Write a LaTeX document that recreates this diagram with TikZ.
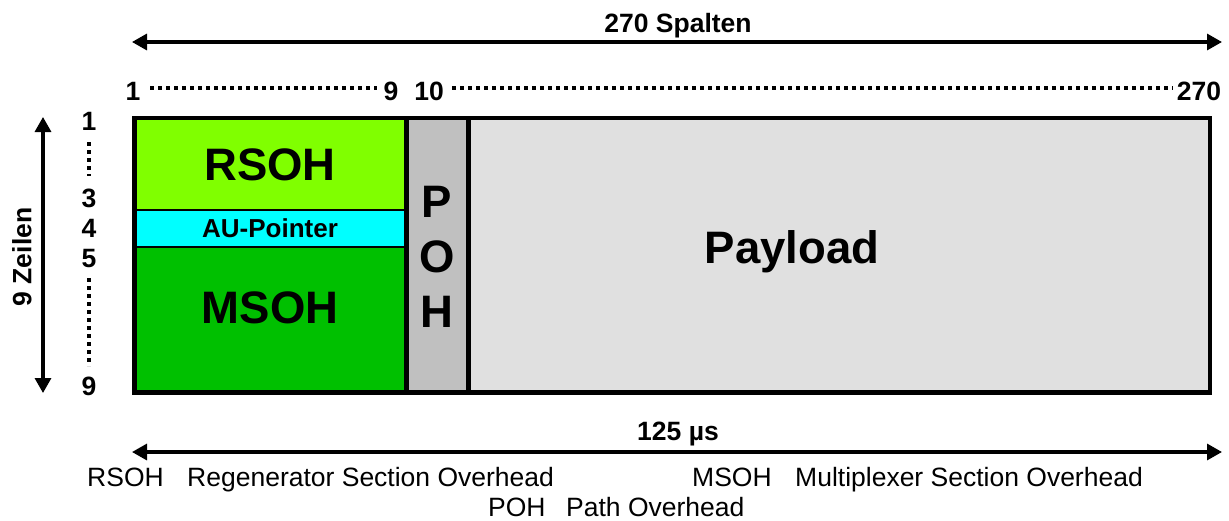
\documentclass[tikz,border=0pt]{standalone}
\usepackage{fontspec}
\setmainfont{Liberation Sans}
\usetikzlibrary{arrows.meta}
\definecolor{rsohc}{HTML}{80FF00}
\definecolor{auc}{HTML}{00FFFF}
\definecolor{msohc}{HTML}{00C000}
\definecolor{pohc}{HTML}{C0C0C0}
\definecolor{payc}{HTML}{E0E0E0}
\tikzset{
  cell/.style={draw=black, line width=2pt, inner sep=0pt, anchor=north west},
  big/.style={font=\bfseries\fontsize{45.5}{50}\selectfont, inner sep=0pt, anchor=base},
  num/.style={font=\bfseries\fontsize{26.5}{30}\selectfont, inner sep=0pt, anchor=base},
  leg/.style={font=\fontsize{26.5}{30}\selectfont, inner sep=0pt, anchor=base west},
  dim/.style={line width=3.2pt, {Triangle[length=15pt,width=16pt]}-{Triangle[length=15pt,width=16pt]}},
  dots/.style={line width=4pt, dash pattern=on 4pt off 4pt},
  frame/.style={line width=4.5pt}
}
\begin{document}
\begin{tikzpicture}[x=1pt,y=-1pt]
\useasboundingbox (0,0) rectangle (1229,520);
% cells
\node[cell, fill=rsohc, minimum width=272pt, minimum height=91pt] (rsoh) at (134.5,118) {};
\node[cell, fill=auc, minimum width=272pt, minimum height=37pt] (au) at (134.5,209) {};
\node[cell, fill=msohc, minimum width=272pt, minimum height=144.5pt] (msoh) at (134.5,246) {};
\node[cell, fill=pohc, minimum width=60pt, minimum height=272.5pt] (poh) at (406.5,118) {};
\node[cell, fill=payc, minimum width=741.5pt, minimum height=272.5pt] (pay) at (466.5,118) {};
\draw[frame] (rsoh.north west) rectangle (pay.south east);
\draw[frame] (poh.north west) -- (poh.south west);
\draw[frame] (poh.north east) -- (poh.south east);
% cell texts
\node[big] (trsoh) at (270,180) {RSOH};
\node[big] (tmsoh) at (270,323) {MSOH};
\node[font=\bfseries\fontsize{26}{30}\selectfont, inner sep=0pt, anchor=base] (tau) at (270,237) {AU-Pointer};
\node[big] (tp) at (437,217) {P};
\node[big] (to) at (437,272) {O};
\node[big] (th) at (437,327) {H};
\node[big] (tpay) at (792,263) {Payload};
% column numbers
\node[num] (c1) at (133,100) {1};
\node[num] (c9) at (391,100) {9};
\node[num] (c10) at (429,100) {10};
\node[num] (c270) at (1199,100) {270};
\coordinate (d1a) at (150,88); \coordinate (d1b) at (377,88);
\coordinate (d2a) at (452,88); \coordinate (d2b) at (1173,88);
\draw[dots] (d1a) -- (d1b);
\draw[dots] (d2a) -- (d2b);
% row numbers
\node[num] (r1) at (89,130) {1};
\node[num] (r3) at (89,207) {3};
\node[num] (r4) at (89,237) {4};
\node[num] (r5) at (89,267) {5};
\node[num] (r9) at (89,395) {9};
\coordinate (v1a) at (89,142); \coordinate (v1b) at (89,176);
\coordinate (v2a) at (89,278); \coordinate (v2b) at (89,366);
\draw[dots] (v1a) -- (v1b);
\draw[dots] (v2a) -- (v2b);
% dimension arrows
\coordinate (ta) at (132,42); \coordinate (tb) at (1222,42);
\draw[dim] (ta) -- (tb);
\node[num] (spalten) at (678,32) {270 Spalten};
\coordinate (ba) at (132,452); \coordinate (bb) at (1222,452);
\draw[dim] (ba) -- (bb);
\node[num] (mus) at (678,440) {125 µs};
\coordinate (la) at (43,117); \coordinate (lb) at (43,393);
\draw[dim] (la) -- (lb);
\node[font=\bfseries\fontsize{26.5}{30}\selectfont, inner sep=0pt, rotate=90] (zeilen) at (22,257) {9 Zeilen};
% legend
\node[leg] (l1) at (87,486) {RSOH};
\node[leg] (l2) at (187,486) {Regenerator Section Overhead};
\node[leg] (l3) at (692,486) {MSOH};
\node[leg] (l4) at (795,486) {Multiplexer Section Overhead};
\node[leg] (l5) at (488,516) {POH};
\node[leg] (l6) at (566,516) {Path Overhead};
\end{tikzpicture}
\end{document}
